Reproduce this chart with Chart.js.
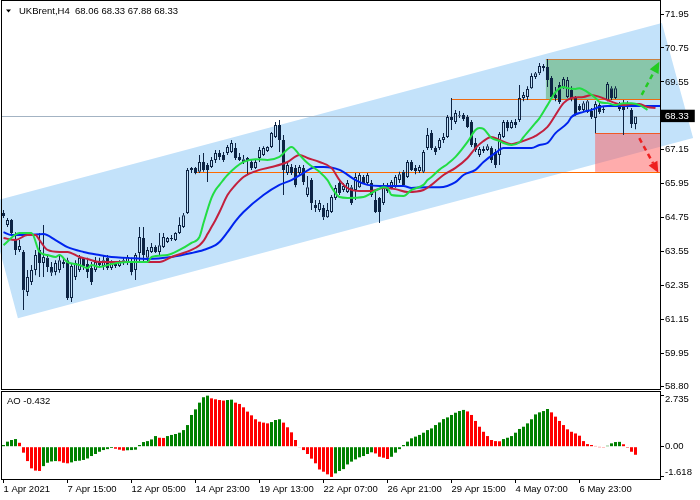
<!DOCTYPE html>
<html><head><meta charset="utf-8">
<script src="https://cdn.jsdelivr.net/npm/chart.js@4.4.1/dist/chart.umd.min.js"></script>
<style>
html,body{margin:0;padding:0;background:#fff;width:700px;height:500px;overflow:hidden}
#main{position:absolute;left:0;top:0}
#ao{position:absolute;left:0;top:390px}
</style></head><body>
<canvas id="main" width="700" height="390"></canvas>
<canvas id="ao" width="700" height="110"></canvas>
<script>
// ---------- DATA ----------
const opens=[64.92,64.49,64.67,63.96,63.61,63.54,62.12,62.48,62.90,63.61,
63.15,63.33,63.01,62.83,62.90,63.18,63.25,61.91,62.65,62.90,
63.33,63.11,62.97,62.90,63.18,63.04,63.33,62.97,63.15,63.04,
63.15,63.15,63.15,62.90,63.50,64.03,63.33,63.54,63.71,63.54,
63.71,63.89,64.03,63.96,64.21,64.42,64.92,66.44,66.51,66.37,
66.72,66.61,66.54,66.79,67.04,66.97,67.04,67.07,67.21,66.90,
66.82,66.79,66.72,66.51,66.86,66.97,67.11,67.25,67.60,68.03,
67.50,66.33,66.54,66.51,66.33,66.51,65.55,66.08,65.20,65.02,
65.09,64.77,64.95,65.45,65.98,65.73,65.66,65.83,65.73,65.83,
66.19,65.98,65.98,65.38,65.45,65.27,65.80,65.80,65.83,66.08,
66.37,66.19,66.72,66.51,66.40,66.37,67.21,67.74,67.21,67.21,
67.50,67.60,68.31,68.13,68.38,68.38,68.31,68.13,67.39,66.97,
67.18,67.14,67.21,67.07,66.97,67.60,68.13,67.92,68.13,68.20,
68.98,69.02,69.33,69.72,69.86,70.04,70.08,69.69,69.09,69.44,
69.33,69.02,69.26,68.98,68.70,68.56,68.49,68.52,68.27,68.73,
68.59,68.91,69.33,68.98,68.77,68.77,68.77,68.56,68.06];
const highs=[65.02,64.74,64.70,64.24,63.96,63.61,62.90,63.08,63.61,64.21,
64.49,63.43,63.18,63.25,63.40,63.33,63.33,63.15,63.25,63.43,
63.36,63.33,63.18,63.36,63.33,63.40,63.43,63.25,63.22,63.25,
63.33,63.43,63.33,63.50,64.42,64.42,63.71,63.86,63.78,64.21,
64.21,64.07,64.14,64.24,64.77,64.92,66.51,66.54,66.54,66.97,
67.04,66.68,66.90,67.14,67.14,67.07,67.32,67.50,67.39,67.04,
66.97,66.90,66.79,66.79,67.25,67.28,67.28,67.78,68.13,68.20,
67.67,66.72,66.65,66.61,66.61,66.61,66.22,66.15,65.38,65.38,
65.20,65.27,65.55,65.91,66.08,65.98,66.08,65.91,66.33,66.33,
66.26,66.33,66.08,65.73,65.48,65.98,65.98,66.08,66.26,66.37,
66.44,66.79,66.79,66.61,66.61,67.14,67.92,67.85,67.28,67.57,
67.74,68.38,68.98,68.56,68.52,68.45,68.38,68.20,67.57,67.25,
67.28,67.35,67.28,67.18,67.78,68.20,68.20,68.20,68.24,69.44,
69.19,69.40,69.86,69.90,70.22,70.18,70.36,69.76,69.37,69.55,
69.72,69.72,69.40,69.05,68.77,68.87,68.91,68.63,68.87,68.84,
68.66,69.55,69.40,69.40,68.84,68.91,68.87,68.63,68.33];
const lows=[64.74,64.42,64.14,63.43,63.54,61.49,61.98,62.37,62.72,62.65,
62.65,62.83,62.69,62.72,62.80,62.97,61.84,61.77,62.55,62.83,
62.90,62.62,62.37,62.83,62.97,62.90,62.90,62.90,62.97,63.01,
63.08,63.08,62.72,62.55,63.18,63.18,63.18,63.50,63.50,63.43,
63.68,63.86,63.93,63.93,64.17,64.39,64.88,66.33,66.29,66.33,
66.37,66.01,66.51,66.68,66.79,66.72,66.97,67.04,66.79,66.75,
66.65,66.26,66.44,66.47,66.72,66.93,67.07,67.21,67.57,67.07,
65.55,66.26,66.26,65.83,66.26,65.91,65.48,65.02,64.95,64.95,
64.67,64.74,64.92,65.38,65.55,65.66,65.62,65.20,65.38,65.80,
65.94,65.91,65.48,64.92,64.56,65.20,65.62,65.76,65.80,65.98,
65.87,66.15,66.40,66.29,66.33,66.33,67.14,67.14,66.97,67.14,
67.39,67.57,67.85,68.06,68.27,68.17,67.92,67.25,67.07,66.90,
67.04,67.11,66.68,66.51,66.61,67.57,67.81,67.89,67.92,68.13,
68.87,68.91,69.30,69.65,69.79,69.93,69.37,68.95,68.87,68.77,
69.30,68.98,68.87,68.35,68.52,68.52,68.45,68.24,67.74,68.42,
68.45,68.87,68.91,68.95,68.52,67.67,68.59,67.92,67.88];
const closes=[64.81,64.67,64.21,63.61,63.75,62.19,62.65,62.90,63.43,63.15,
63.36,63.01,62.80,63.15,63.25,63.11,61.91,63.04,63.15,63.33,
63.04,62.83,62.48,63.18,63.08,63.25,62.97,63.15,63.04,63.18,
63.25,63.36,62.83,63.43,64.07,63.43,63.61,63.71,63.54,63.78,
64.07,64.03,64.00,64.21,64.49,64.84,66.44,66.51,66.33,66.72,
66.44,66.44,66.79,67.04,66.90,66.79,67.25,67.39,66.86,66.79,
66.72,66.86,66.51,66.72,67.14,67.21,67.25,67.74,68.03,67.50,
66.44,66.61,66.33,65.91,66.54,66.01,65.83,65.27,65.09,65.27,
64.77,65.02,65.48,65.80,65.62,65.87,65.98,65.27,66.19,66.26,
65.98,66.26,65.55,64.95,64.95,65.80,65.69,66.01,66.19,66.29,
65.91,66.72,66.44,66.40,66.54,67.07,67.67,67.21,67.07,67.50,
67.60,68.31,68.20,68.45,68.35,68.24,67.96,67.32,67.14,67.18,
67.11,67.28,66.79,66.61,67.71,68.13,67.92,68.13,68.03,68.98,
69.09,69.30,69.76,69.86,70.11,70.11,69.62,69.02,68.98,68.84,
69.65,69.62,68.98,68.42,68.56,68.80,68.87,68.31,68.77,68.49,
68.56,69.48,68.98,69.33,68.59,68.56,68.70,68.06,68.33];

// Alligator lines (bar index, price)
const jawX=[0,2,6,10,13,16,20,24,27,31,36,42,47,50,53,54,56,58,60,65,69,72,75,78,80,84,88,91,94,100,102,106,109,113,115,118,120,123,125,129,132,134,136,138,141,142,145,147,149,151,155,158,166];
const jawY=[64.24,64.14,64.14,64.17,63.96,63.71,63.54,63.43,63.36,63.33,63.29,63.36,63.50,63.61,63.78,63.89,64.24,64.63,64.95,65.55,65.91,66.08,66.33,66.54,66.54,66.44,66.08,65.91,65.87,65.87,65.80,65.83,65.83,66.01,66.26,66.44,66.72,67.04,67.21,67.21,67.21,67.32,67.39,67.74,68.10,68.31,68.49,68.56,68.66,68.70,68.70,68.70,68.70];
const teethX=[0,3,6,8,9,11,14,16,19,21,24,27,31,36,39,42,47,49,50,51,52,53,54,56,58,60,64,67,71,74,76,79,82,84,86,89,92,95,98,101,105,107,110,113,116,118,120,122,124,127,129,132,133,136,138,140,142,145,147,149,151,153,155,157,159,161,163];
const teethY=[64.03,63.96,64.14,64.14,63.96,63.61,63.54,63.54,63.36,63.29,63.18,63.18,63.18,63.18,63.18,63.36,63.61,63.78,63.93,64.17,64.42,64.67,64.95,65.55,65.91,66.19,66.44,66.54,66.72,66.97,66.86,66.72,66.51,66.08,65.80,65.69,65.69,65.80,65.76,65.66,65.73,65.91,66.26,66.51,66.86,67.21,67.46,67.60,67.50,67.35,67.42,67.57,67.64,67.96,68.38,68.80,68.98,69.02,69.09,69.02,68.91,68.80,68.73,68.77,68.77,68.66,68.63];
const lipsX=[0,4,7,9,11,13,14,16,19,21,22,24,27,31,36,37,41,44,47,49,50,52,53,54,56,60,63,66,69,72,74,76,79,81,82,84,86,90,92,95,96,97,100,102,105,106,107,109,111,113,116,118,119,120,122,124,125,127,129,130,133,134,136,138,140,141,143,144,146,148,149,151,153,155,157,159,161];
const lipsY=[63.78,64.21,64.21,63.54,63.43,63.36,63.43,63.18,63.08,62.97,63.08,63.01,63.11,63.18,63.18,63.36,63.43,63.61,63.86,64.07,64.56,65.45,65.73,65.91,66.26,66.72,66.82,66.79,66.90,67.25,66.97,66.68,66.37,66.08,65.83,65.48,65.45,65.48,65.62,65.83,65.80,65.55,65.52,65.73,65.91,66.08,66.19,66.45,66.65,66.90,67.43,67.85,67.92,67.89,67.57,67.46,67.39,67.32,67.42,67.60,68.10,68.27,68.73,69.19,69.37,69.33,69.30,69.33,69.19,68.98,68.84,68.80,68.73,68.80,68.80,68.73,68.56];

// Awesome Oscillator
const aoValues=[0.09,0.27,0.36,0.41,0.21,-0.32,-0.77,-1.16,-1.28,-1.30,
-1.04,-0.86,-0.79,-0.77,-0.78,-0.86,-0.89,-0.84,-0.77,-0.75,
-0.71,-0.63,-0.50,-0.39,-0.27,-0.18,-0.13,-0.07,-0.11,-0.16,
-0.21,-0.19,-0.18,-0.16,0.09,0.25,0.30,0.39,0.57,0.48,
0.47,0.57,0.63,0.68,0.75,0.89,1.16,1.70,2.00,2.36,
2.65,2.735,2.59,2.54,2.50,2.47,2.50,2.52,2.36,2.29,
2.11,1.88,1.68,1.47,1.34,1.29,1.25,1.32,1.43,1.47,
1.29,1.04,0.77,0.36,-0.02,-0.18,-0.39,-0.64,-0.89,-1.22,
-1.34,-1.48,-1.618,-1.43,-1.30,-1.20,-0.95,-0.80,-0.68,-0.57,
-0.50,-0.39,-0.30,-0.36,-0.54,-0.59,-0.66,-0.54,-0.32,-0.13,
0.09,0.27,0.45,0.54,0.63,0.75,0.89,0.98,1.16,1.30,
1.48,1.57,1.70,1.82,1.91,1.97,1.89,1.70,1.38,1.07,
0.80,0.57,0.36,0.30,0.29,0.41,0.48,0.57,0.75,0.95,
1.07,1.25,1.47,1.73,1.84,1.91,2.02,1.84,1.61,1.38,
1.16,0.93,0.80,0.71,0.59,0.30,0.14,0.09,0.04,-0.01,
-0.04,0.05,0.18,0.25,0.26,0.13,-0.05,-0.27,-0.432];

// Axis ticks
const xTickIdx=[0,16,32,48,64,80,96,112,128,144];
const xTickLabels=['1 Apr 2021','7 Apr 15:00','12 Apr 05:00','14 Apr 23:00','19 Apr 13:00','22 Apr 07:00','26 Apr 21:00','29 Apr 15:00','4 May 07:00','6 May 23:00'];
const yTickValues=[71.95,70.75,69.55,68.33,67.15,65.95,64.75,63.55,62.35,61.15,59.95,58.80];
const yTickLabels=['71.95','70.75','69.55','68.33','67.15','65.95','64.75','63.55','62.35','61.15','59.95','58.80'];
const aoTickValues=[2.735,0,-1.618];
const aoTickLabels=['2.735','0.00','-1.618'];
const lastPrice=68.33;
const headerText='UKBrent,H4  68.06 68.33 67.88 68.33';
const aoText='AO -0.432';

// Drawing objects (bar index / price)
const channelIdx=[-4.1,164.6,172.4,3.6];
const channelPrice=[65.27,71.63,67.57,61.20];
const greenBoxIdx=[135.6,170];
const greenBoxPrice=[68.93,70.36];
const pinkBoxIdx=[147.9,170];
const pinkBoxPrice=[66.37,67.74];
const levelPrice=[66.37,68.93,70.36,67.74];
const levelStart=[47.6,111.9,135.6,147.9];
const upArrowIdx=[159.55,163.95], upArrowPrice=[69.09,70.26];
const dnArrowIdx=[158.95,163.7], dnArrowPrice=[67.56,66.34];

// ---------- STYLE ----------
const CANDLE='#0d2444', CHANNEL='#c3e2fa', GREEN_BOX='#88c6aa', PINK_BOX='rgba(255,90,90,0.5)';
const LEVEL_COLORS=['#ff6a00','#ee6a10','#c98040','#f05a28'];
const X_MIN=-0.375, X_MAX=164.125;
const Y_MAX=72.41, Y_MIN=58.695;
Chart.defaults.font.family='"Liberation Sans", Arial, sans-serif';
Chart.defaults.font.size=9.5;
Chart.defaults.color='#000';

const idx=opens.map((_,i)=>i);
const bodies=idx.map(i=>({x:i,y:[opens[i],closes[i]]}));
const upperW=idx.map(i=>({x:i,y:[Math.max(opens[i],closes[i]),highs[i]]}));
const lowerW=idx.map(i=>({x:i,y:[lows[i],Math.min(opens[i],closes[i])]}));
const bodyFill=idx.map(i=>closes[i]>=opens[i]?'rgba(0,0,0,0)':CANDLE);
const pts=(xs,ys)=>xs.map((x,k)=>({x,y:ys[k]}));
const noPad=s=>{s.paddingTop=0;s.paddingBottom=0;s.paddingLeft=0;s.paddingRight=0;};

function drawArrow(ctx,x1,y1,x2,y2,color){
  const a=Math.atan2(y2-y1,x2-x1), hl=11, hw=5;
  const bx=x2-hl*Math.cos(a), by=y2-hl*Math.sin(a);
  ctx.save();
  ctx.strokeStyle=color; ctx.lineWidth=2.5; ctx.setLineDash([5,4]);
  ctx.beginPath(); ctx.moveTo(x1,y1); ctx.lineTo(bx,by); ctx.stroke();
  ctx.setLineDash([]); ctx.fillStyle=color;
  ctx.beginPath(); ctx.moveTo(x2,y2);
  ctx.lineTo(bx+hw*Math.sin(a),by-hw*Math.cos(a));
  ctx.lineTo(bx-hw*Math.sin(a),by+hw*Math.cos(a));
  ctx.closePath(); ctx.fill(); ctx.restore();
}

const mainPlugin={
  id:'mainOverlay',
  beforeDraw(chart){
    const {ctx,chartArea:a,scales:{x,y}}=chart;
    ctx.save();
    ctx.fillStyle='#fff'; ctx.fillRect(0,0,chart.width,chart.height);
    ctx.beginPath();
    channelIdx.forEach((v,k)=>{const px=x.getPixelForValue(v),py=y.getPixelForValue(channelPrice[k]); k?ctx.lineTo(px,py):ctx.moveTo(px,py);});
    ctx.closePath(); ctx.fillStyle=CHANNEL; ctx.fill();
    ctx.beginPath(); ctx.rect(a.left,a.top,a.right-a.left,a.bottom-a.top); ctx.clip();
    const box=(xi,pr,col)=>{const x0=x.getPixelForValue(xi[0]),x1=x.getPixelForValue(xi[1]);const y0=y.getPixelForValue(pr[1]),y1=y.getPixelForValue(pr[0]);ctx.fillStyle=col;ctx.fillRect(x0,y0,x1-x0,y1-y0);};
    box(greenBoxIdx,greenBoxPrice,GREEN_BOX);
    box(pinkBoxIdx,pinkBoxPrice,PINK_BOX);
    let py=Math.round(y.getPixelForValue(lastPrice))+0.5;
    ctx.strokeStyle='#a3b3c3'; ctx.lineWidth=1;
    ctx.beginPath(); ctx.moveTo(a.left,py); ctx.lineTo(a.right,py); ctx.stroke();
    levelPrice.forEach((p,k)=>{
      const yy=Math.round(y.getPixelForValue(p))+0.5;
      ctx.strokeStyle=LEVEL_COLORS[k];
      ctx.beginPath(); ctx.moveTo(x.getPixelForValue(levelStart[k]),yy); ctx.lineTo(a.right,yy); ctx.stroke();
    });
    ctx.restore();
  },
  afterDatasetsDraw(chart){
    const {ctx,scales:{x,y}}=chart;
    drawArrow(ctx,x.getPixelForValue(upArrowIdx[0]),y.getPixelForValue(upArrowPrice[0]),x.getPixelForValue(upArrowIdx[1]),y.getPixelForValue(upArrowPrice[1]),'#22cc22');
    drawArrow(ctx,x.getPixelForValue(dnArrowIdx[0]),y.getPixelForValue(dnArrowPrice[0]),x.getPixelForValue(dnArrowIdx[1]),y.getPixelForValue(dnArrowPrice[1]),'#ee2020');
  },
  afterDraw(chart){
    const {ctx,chartArea:a}=chart;
    ctx.save();
    ctx.strokeStyle='#000'; ctx.lineWidth=1;
    ctx.strokeRect(a.left-0.5,a.top-0.5,a.right-a.left+1,a.bottom-a.top+1);
    ctx.fillStyle='#000';
    ctx.beginPath(); ctx.moveTo(6,9.5); ctx.lineTo(11,9.5); ctx.lineTo(8.5,12.5); ctx.closePath(); ctx.fill();
    ctx.font='9.5px "Liberation Sans", Arial, sans-serif';
    ctx.textBaseline='middle'; ctx.textAlign='left';
    ctx.fillText(headerText,19,11);
    ctx.restore();
  }
};

new Chart(document.getElementById('main'),{
  type:'bar',
  data:{datasets:[
    {type:'line',label:'Lips',data:pts(lipsX,lipsY),borderColor:'#22dd44',borderWidth:2,pointRadius:0,cubicInterpolationMode:'monotone',order:1},
    {type:'line',label:'Teeth',data:pts(teethX,teethY),borderColor:'#c2203e',borderWidth:2,pointRadius:0,cubicInterpolationMode:'monotone',order:2},
    {type:'line',label:'Jaw',data:pts(jawX,jawY),borderColor:'#0024ee',borderWidth:2,pointRadius:0,cubicInterpolationMode:'monotone',order:3},
    {label:'Bodies',data:bodies,backgroundColor:bodyFill,borderColor:CANDLE,borderWidth:1,borderSkipped:false,barThickness:3,grouped:false,inflateAmount:0,order:4},
    {label:'UpperWick',data:upperW,backgroundColor:CANDLE,borderWidth:0,barThickness:1,grouped:false,inflateAmount:0,order:5},
    {label:'LowerWick',data:lowerW,backgroundColor:CANDLE,borderWidth:0,barThickness:1,grouped:false,inflateAmount:0,order:5}
  ]},
  options:{
    responsive:false,animation:false,events:[],
    layout:{padding:{left:2,top:1,right:0,bottom:1}},
    plugins:{legend:{display:false},tooltip:{enabled:false}},
    scales:{
      x:{type:'linear',min:X_MIN,max:X_MAX,offset:false,display:false},
      y:{position:'right',min:Y_MIN,max:Y_MAX,
        afterFit:s=>{s.width=40;noPad(s);},
        afterBuildTicks:s=>{s.ticks=yTickValues.map(v=>({value:v}));},
        ticks:{autoSkip:false,padding:1,
          callback:v=>{const k=yTickValues.indexOf(v);return k>=0?yTickLabels[k]:'';},
          color:c=>(c.tick&&c.tick.value===lastPrice)?'#fff':'#000',
          showLabelBackdrop:c=>!!(c.tick&&c.tick.value===lastPrice),
          backdropColor:c=>(c.tick&&c.tick.value===lastPrice)?'#000':'rgba(0,0,0,0)',
          backdropPadding:{left:4,right:6,top:1,bottom:0}},
        grid:{drawOnChartArea:false,drawTicks:true,tickLength:4,color:'#000'},
        border:{display:true,color:'#000'}}
    }
  },
  plugins:[mainPlugin]
});

const aoColors=aoValues.map((v,i)=>(i===0||v>aoValues[i-1])?'#008000':'#ff0000');
const aoPlugin={
  id:'aoOverlay',
  beforeDraw(chart){
    const {ctx}=chart;
    ctx.save(); ctx.fillStyle='#fff'; ctx.fillRect(0,0,chart.width,chart.height); ctx.restore();
    try{
      const items=chart.scales.y.getLabelItems();
      items.forEach(it=>{
        if(it._shifted) return;
        if(it.label===aoTickLabels[0]) it.options.translation[1]+=4;
        else if(it.label===aoTickLabels[2]) it.options.translation[1]-=5;
        it._shifted=true;
      });
    }catch(e){}
  },
  afterDraw(chart){
    const {ctx,chartArea:a}=chart;
    ctx.save();
    ctx.strokeStyle='#000'; ctx.lineWidth=1;
    ctx.strokeRect(a.left-0.5,a.top-0.5,a.right-a.left+1,a.bottom-a.top+1);
    ctx.fillStyle='#000';
    ctx.font='9.5px "Liberation Sans", Arial, sans-serif';
    ctx.textBaseline='middle'; ctx.textAlign='left';
    ctx.fillText(aoText,7,11);
    ctx.restore();
  }
};

new Chart(document.getElementById('ao'),{
  type:'bar',
  data:{datasets:[{label:'AO',data:idx.map(i=>({x:i,y:aoValues[i]})),backgroundColor:aoColors,borderWidth:0,barThickness:3,grouped:false,inflateAmount:0}]},
  options:{
    responsive:false,animation:false,events:[],
    layout:{padding:{left:2,top:2,right:0,bottom:0}},
    plugins:{legend:{display:false},tooltip:{enabled:false}},
    scales:{
      x:{type:'linear',min:X_MIN,max:X_MAX,offset:false,
        afterFit:s=>{s.height=21;noPad(s);},
        afterBuildTicks:s=>{s.ticks=xTickIdx.map(v=>({value:v}));},
        ticks:{autoSkip:false,maxRotation:0,minRotation:0,align:'start',padding:1,
          callback:v=>{const k=xTickIdx.indexOf(v);return k>=0?xTickLabels[k]:'';}},
        grid:{drawOnChartArea:false,drawTicks:true,tickLength:4,color:'#000',offset:false},
        border:{display:true,color:'#000'}},
      y:{position:'right',min:-1.73,max:2.93,
        afterFit:s=>{s.width=40;noPad(s);},
        afterBuildTicks:s=>{s.ticks=aoTickValues.map(v=>({value:v}));},
        ticks:{autoSkip:false,padding:1,
          callback:v=>{const k=aoTickValues.indexOf(v);return k>=0?aoTickLabels[k]:'';}},
        grid:{drawOnChartArea:false,drawTicks:true,tickLength:4,color:'#000'},
        border:{display:true,color:'#000'}}
    }
  },
  plugins:[aoPlugin]
});
</script>
</body></html>
